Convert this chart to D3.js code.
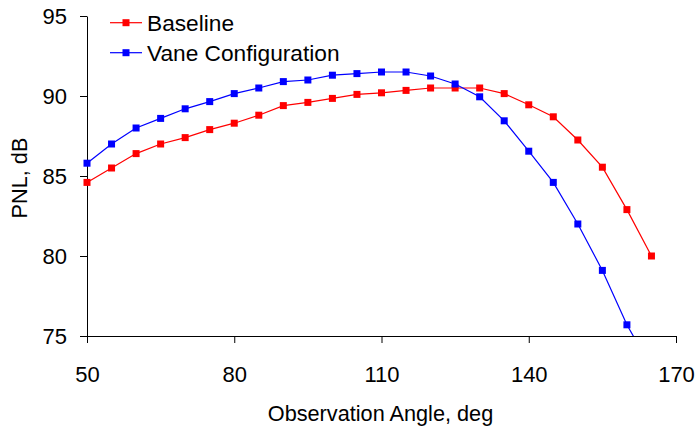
<!DOCTYPE html>
<html lang="en">
<head>
<meta charset="utf-8">
<title>PNL vs Observation Angle</title>
<script src="https://d3js.org/d3.v7.min.js"></script>
<style>
	body { margin: 0; background: #fff; }
	text { font-family: "Liberation Sans", Arial, sans-serif; fill: #000; }
</style>
</head>
<body>
<div id="chart"></div>
<script>
// observation angles, deg
let angles = [50, 55, 60, 65, 70, 75, 80, 85, 90, 95, 100, 105, 110, 115,
	120, 125, 130, 135, 140, 145, 150, 155, 160, 165];
// PNL values, dB
let baseline = [84.6, 85.5, 86.4, 87.0, 87.4, 87.9, 88.3, 88.8, 89.4, 89.6, 89.85, 90.1,
	90.2, 90.35, 90.5, 90.5, 90.5, 90.15, 89.45, 88.7, 87.25, 85.55, 82.9, 80.0];
let vane = [85.8, 87.0, 88.0, 88.6, 89.2, 89.65, 90.15, 90.5, 90.9, 91.0, 91.3, 91.4,
	91.5, 91.5, 91.25, 90.75, 89.95, 88.45, 86.55, 84.6, 82.0, 79.1, 75.7, 73.0];
let xTicks = [50, 80, 110, 140, 170];
let yTicks = [75, 80, 85, 90, 95];
let seriesNames = ["Baseline", "Vane Configuration"];

let width = 695, height = 428;
let plotLeft = 87, plotRight = 676, plotTop = 16, plotBottom = 336;

let svg = d3.select("#chart").append("svg")
	.attr("width", width)
	.attr("height", height);

let x = d3.scaleLinear().domain([50, 170]).range([plotLeft, plotRight]);
let y = d3.scaleLinear().domain([75, 95]).range([plotBottom, plotTop]);

// clip the lines to the plot area
svg.append("clipPath").attr("id", "plotClip")
	.append("rect")
	.attr("x", plotLeft - 10).attr("y", plotTop - 10)
	.attr("width", plotRight - plotLeft + 20).attr("height", plotBottom - plotTop + 10);

// axes
let xAxis = svg.append("g")
	.attr("transform", "translate(0," + plotBottom + ")")
	.call(d3.axisBottom(x).tickValues(xTicks).tickSize(7).tickSizeOuter(0).tickPadding(23.5));
let yAxis = svg.append("g")
	.attr("transform", "translate(" + plotLeft + ",0)")
	.call(d3.axisLeft(y).tickValues(yTicks).tickSize(7).tickSizeOuter(0).tickPadding(13));
[xAxis, yAxis].forEach(function(a) {
	a.selectAll("text").style("font-size", "22px").attr("fill", "#000")
		.style("font-family", "'Liberation Sans', Arial, sans-serif");
	a.selectAll("line, path").attr("stroke", "#000");
});

// axis titles
svg.append("text")
	.attr("x", (plotLeft + plotRight) / 2 - 1)
	.attr("y", 421)
	.attr("text-anchor", "middle")
	.style("font-size", "21.7px")
	.text("Observation Angle, deg");
svg.append("text")
	.attr("transform", "translate(27," + ((plotTop + plotBottom) / 2 + 2) + ") rotate(-90)")
	.attr("text-anchor", "middle")
	.style("font-size", "21.7px")
	.text("PNL, dB");

let series = [
	{ name: seriesNames[0], values: baseline, color: "#ff0000" },
	{ name: seriesNames[1], values: vane, color: "#0000ff" }
];

let line = d3.line()
	.x(function(d) { return x(d.a); })
	.y(function(d) { return y(d.v); });

series.forEach(function(s) {
	let pts = angles.map(function(a, i) { return { a: a, v: s.values[i] }; });
	svg.append("path")
		.datum(pts)
		.attr("clip-path", "url(#plotClip)")
		.attr("fill", "none")
		.attr("stroke", s.color)
		.attr("stroke-width", 1.2)
		.attr("d", line);
	svg.selectAll(null)
		.data(pts.filter(function(d) { return d.v >= 75; }))
		.enter()
		.append("rect")
		.attr("x", function(d) { return x(d.a) - 3.5; })
		.attr("y", function(d) { return y(d.v) - 3.5; })
		.attr("width", 7)
		.attr("height", 7)
		.attr("fill", s.color);
});

// legend
let legend = svg.selectAll("g.legend")
	.data(series)
	.enter()
	.append("g")
	.attr("class", "legend")
	.attr("transform", function(d, i) { return "translate(110," + (22.7 + i * 30) + ")"; });
legend.append("line")
	.attr("x1", 0).attr("x2", 32)
	.attr("stroke", function(d) { return d.color; })
	.attr("stroke-width", 1.2);
legend.append("rect")
	.attr("x", 12.5).attr("y", -3.5)
	.attr("width", 7).attr("height", 7)
	.attr("fill", function(d) { return d.color; });
legend.append("text")
	.attr("x", 37)
	.attr("y", 8)
	.style("font-size", "22.7px")
	.text(function(d) { return d.name; });
</script>
</body>
</html>
